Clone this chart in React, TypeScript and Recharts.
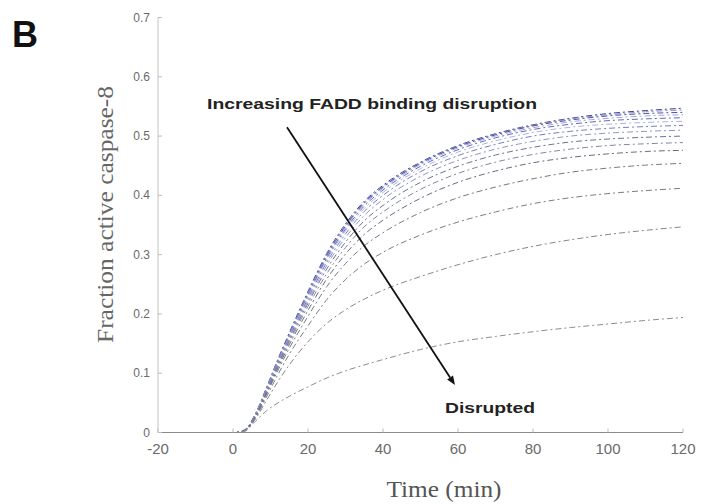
import React from 'react';
import { LineChart, Line, XAxis, YAxis, ReferenceLine } from 'recharts';

// Time points (min)
const timePoints = [-20, 0, 3, 6, 9, 12, 15, 20, 25, 30, 35, 40, 50, 60, 70, 80, 90, 100, 110, 120];

// Fraction active caspase-8, from least to most FADD binding disruption
const s1 = [0, 0, 0.004, 0.032, 0.077, 0.124, 0.168, 0.238, 0.302, 0.352, 0.390, 0.417, 0.456, 0.484, 0.504, 0.519, 0.530, 0.538, 0.543, 0.547];
const s2 = [0, 0, 0.004, 0.031, 0.076, 0.123, 0.166, 0.236, 0.300, 0.350, 0.388, 0.415, 0.455, 0.483, 0.503, 0.518, 0.529, 0.536, 0.541, 0.544];
const s3 = [0, 0, 0.004, 0.031, 0.075, 0.122, 0.165, 0.234, 0.298, 0.348, 0.387, 0.414, 0.454, 0.482, 0.502, 0.517, 0.527, 0.534, 0.538, 0.540];
const s4 = [0, 0, 0.004, 0.030, 0.075, 0.121, 0.164, 0.233, 0.296, 0.346, 0.385, 0.412, 0.452, 0.480, 0.500, 0.514, 0.524, 0.530, 0.534, 0.536];
const s5 = [0, 0, 0.003, 0.030, 0.074, 0.120, 0.163, 0.231, 0.294, 0.343, 0.382, 0.409, 0.449, 0.477, 0.497, 0.511, 0.520, 0.526, 0.529, 0.531];
const s6 = [0, 0, 0.003, 0.030, 0.073, 0.119, 0.162, 0.229, 0.291, 0.340, 0.378, 0.405, 0.445, 0.473, 0.492, 0.506, 0.515, 0.520, 0.523, 0.525];
const s7 = [0, 0, 0.003, 0.029, 0.072, 0.118, 0.160, 0.226, 0.287, 0.335, 0.373, 0.400, 0.440, 0.467, 0.486, 0.500, 0.508, 0.513, 0.516, 0.518];
const s8 = [0, 0, 0.003, 0.029, 0.071, 0.116, 0.158, 0.222, 0.282, 0.329, 0.366, 0.393, 0.432, 0.459, 0.478, 0.491, 0.500, 0.505, 0.508, 0.510];
const s9 = [0, 0, 0.003, 0.028, 0.070, 0.114, 0.155, 0.218, 0.276, 0.321, 0.357, 0.383, 0.422, 0.449, 0.468, 0.481, 0.490, 0.495, 0.498, 0.500];
const s10 = [0, 0, 0.003, 0.028, 0.069, 0.112, 0.152, 0.213, 0.268, 0.312, 0.347, 0.372, 0.410, 0.437, 0.456, 0.469, 0.478, 0.484, 0.487, 0.489];
const s11 = [0, 0, 0.003, 0.027, 0.067, 0.109, 0.148, 0.206, 0.259, 0.301, 0.334, 0.358, 0.395, 0.422, 0.441, 0.455, 0.464, 0.470, 0.474, 0.476];
const s12 = [0, 0, 0.003, 0.026, 0.065, 0.105, 0.142, 0.196, 0.246, 0.285, 0.315, 0.337, 0.371, 0.396, 0.414, 0.428, 0.439, 0.446, 0.451, 0.454];
const s13 = [0, 0, 0.003, 0.025, 0.061, 0.098, 0.132, 0.180, 0.224, 0.258, 0.284, 0.304, 0.333, 0.355, 0.372, 0.386, 0.396, 0.403, 0.408, 0.412];
const s14 = [0, 0, 0.002, 0.023, 0.055, 0.086, 0.114, 0.153, 0.184, 0.207, 0.225, 0.240, 0.263, 0.283, 0.300, 0.314, 0.325, 0.334, 0.341, 0.347];
const s15 = [0, 0, 0.002, 0.019, 0.037, 0.050, 0.061, 0.077, 0.092, 0.104, 0.114, 0.123, 0.140, 0.153, 0.162, 0.170, 0.177, 0.183, 0.189, 0.194];

const seriesList = [s1, s2, s3, s4, s5, s6, s7, s8, s9, s10, s11, s12, s13, s14, s15];
const seriesColors = [
  '#3a3f85', '#8a8fd2', '#4d52a0', '#a2a6de', '#6468b4', '#b0b3e4', '#7a7ec0',
  '#9296c8', '#6e7098', '#8486a8', '#6a6b80', '#77788a', '#7c7c88', '#85858e', '#8c8c94',
];

const xTicks = [-20, 0, 20, 40, 60, 80, 100, 120];
const yTicks = [0, 0.1, 0.2, 0.3, 0.4, 0.5, 0.6, 0.7];

// Arrow annotation endpoints in data units
const arrowStart = { x: 14.4, y: 0.515 };
const arrowEnd = { x: 59.2, y: 0.08 };

const rows = timePoints.map((t, i) => {
  const r: Record<string, number> = { t };
  seriesList.forEach((s, k) => {
    r['c' + (k + 1)] = s[i];
  });
  return r;
});

const XTick = (props: any) => {
  const { x, y, payload } = props;
  return (
    <g>
      <line x1={x} x2={x} y1={y} y2={y - 4} stroke="#bbb" />
      <text x={x} y={y + 21} textAnchor="middle" fontSize={15} fill="#6a6a6a" fontFamily="Liberation Sans, Arial, sans-serif">
        {payload.value}
      </text>
    </g>
  );
};

const YTick = (props: any) => {
  const { x, y, payload } = props;
  const v = payload.value;
  const label = v === 0 ? '0' : Number(v).toFixed(1);
  return (
    <g>
      <line x1={x} x2={x + 4} y1={y} y2={y} stroke="#bbb" />
      <text x={x - 8} y={y + 4} textAnchor="end" fontSize={12} fill="#6a6a6a" fontFamily="Liberation Sans, Arial, sans-serif">
        {label}
      </text>
    </g>
  );
};

const ArrowShape = (props: any) => {
  const { x1, y1, x2, y2 } = props;
  const dx = x2 - x1;
  const dy = y2 - y1;
  const len = Math.sqrt(dx * dx + dy * dy) || 1;
  const ux = dx / len;
  const uy = dy / len;
  const hl = 9;
  const hw = 3.5;
  const bx = x2 - ux * hl;
  const by = y2 - uy * hl;
  const p = `${x2},${y2} ${bx - uy * hw},${by + ux * hw} ${bx + uy * hw},${by - ux * hw}`;
  return (
    <g>
      <line x1={x1} y1={y1} x2={bx} y2={by} stroke="#111" strokeWidth={1.8} />
      <polygon points={p} fill="#111" />
    </g>
  );
};

export default function App() {
  return (
    <div style={{ position: 'absolute', left: 0, top: 0, width: 701, height: 504, background: '#fff', overflow: 'hidden' }}>
      <LineChart
        width={701}
        height={504}
        data={rows}
        margin={{ top: 17.5, right: 18, left: 98, bottom: 31.5 }}
      >
        <XAxis
          dataKey="t"
          type="number"
          domain={[-20, 120]}
          ticks={xTicks}
          interval={0}
          height={40}
          tickSize={0}
          tickMargin={0}
          tick={<XTick />}
          axisLine={{ stroke: '#8a8a8a' }}
          tickLine={false}
        />
        <YAxis
          type="number"
          domain={[0, 0.7]}
          ticks={yTicks}
          interval={0}
          width={60}
          tickSize={0}
          tickMargin={0}
          tick={<YTick />}
          axisLine={{ stroke: '#c4c4c4' }}
          tickLine={false}
        />
        {seriesList.map((_, k) => (
          <Line
            key={k}
            type="monotone"
            dataKey={'c' + (k + 1)}
            stroke={seriesColors[k]}
            strokeWidth={1}
            strokeDasharray="6 3 2 3"
            dot={false}
            activeDot={false}
            isAnimationActive={false}
          />
        ))}
        <ReferenceLine
          segment={[arrowStart, arrowEnd]}
          ifOverflow="visible"
          shape={(p: any) => <ArrowShape {...p} />}
        />
      </LineChart>
      <svg width={701} height={504} style={{ position: 'absolute', left: 0, top: 0, pointerEvents: 'none' }}>
        <text x={12} y={47} fontSize={36} fontWeight="bold" fill="#111" fontFamily="Liberation Sans, Arial, sans-serif">B</text>
        <text
          x={113}
          y={214.5}
          transform="rotate(-90 113 214.5)"
          textAnchor="middle"
          fontSize={23}
          fill="#666"
          fontFamily="Liberation Serif, Times New Roman, serif"
          textLength={257}
          lengthAdjust="spacingAndGlyphs"
        >
          Fraction active caspase-8
        </text>
        <text
          x={444}
          y={497}
          textAnchor="middle"
          fontSize={23}
          fill="#555"
          fontFamily="Liberation Serif, Times New Roman, serif"
          textLength={115}
          lengthAdjust="spacingAndGlyphs"
        >
          Time (min)
        </text>
        <text
          x={207}
          y={109}
          fontSize={15}
          fontWeight="bold"
          fill="#222"
          fontFamily="Liberation Sans, Arial, sans-serif"
          textLength={330}
          lengthAdjust="spacingAndGlyphs"
        >
          Increasing FADD binding disruption
        </text>
        <text
          x={445}
          y={413}
          fontSize={15}
          fontWeight="bold"
          fill="#222"
          fontFamily="Liberation Sans, Arial, sans-serif"
          textLength={90}
          lengthAdjust="spacingAndGlyphs"
        >
          Disrupted
        </text>
      </svg>
    </div>
  );
}
